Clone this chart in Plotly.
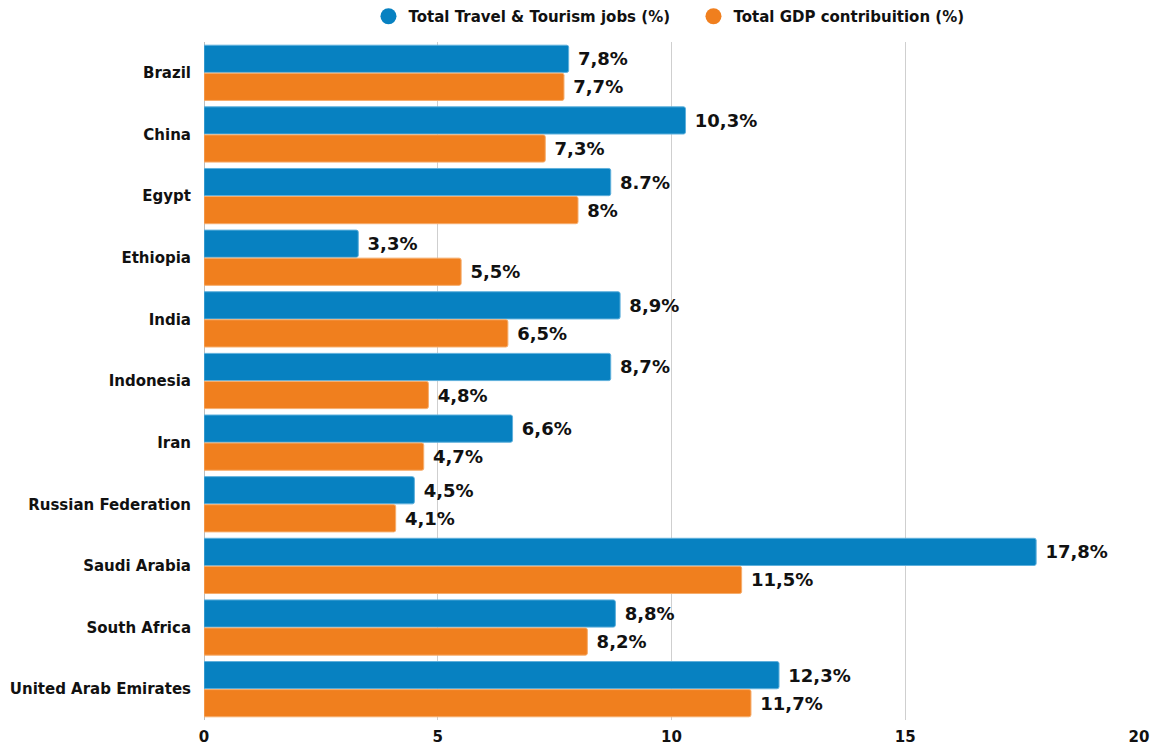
import plotly.graph_objects as go

countries = ["Brazil", "China", "Egypt", "Ethiopia", "India", "Indonesia", "Iran",
             "Russian Federation", "Saudi Arabia", "South Africa", "United Arab Emirates"]
jobs = [7.8, 10.3, 8.7, 3.3, 8.9, 8.7, 6.6, 4.5, 17.8, 8.8, 12.3]
gdp = [7.7, 7.3, 8.0, 5.5, 6.5, 4.8, 4.7, 4.1, 11.5, 8.2, 11.7]
jobs_labels = ["7,8%", "10,3%", "8.7%", "3,3%", "8,9%", "8,7%", "6,6%", "4,5%", "17,8%", "8,8%", "12,3%"]
gdp_labels = ["7,7%", "7,3%", "8%", "5,5%", "6,5%", "4,8%", "4,7%", "4,1%", "11,5%", "8,2%", "11,7%"]
x_ticks = [0, 5, 10, 15, 20]
series_names = ["Total Travel & Tourism jobs (%)", "Total GDP contribuition (%)"]

BLUE = "#0781c1"
ORANGE = "#f07f1e"
FONT = "DejaVu Sans, Verdana, sans-serif"

fig = go.Figure()
for vals, labels, color, edge in [(jobs, jobs_labels, BLUE, "#5fb0dc"),
                                  (gdp, gdp_labels, ORANGE, "#f6ad6c")]:
    fig.add_trace(go.Bar(
        y=countries, x=vals, orientation="h", showlegend=False,
        marker=dict(color=color, line=dict(color=edge, width=1), cornerradius=2),
        text=[" " + t for t in labels], textposition="outside", cliponaxis=False,
        textfont=dict(size=18, color="#111111", family=FONT, weight=700),
    ))

# round legend markers
for name, color in zip(series_names, [BLUE, ORANGE]):
    fig.add_trace(go.Scatter(
        x=[None], y=[None], mode="markers", name=name,
        marker=dict(symbol="circle", size=18, color=color),
    ))

fig.update_layout(
    width=1151, height=749,
    margin=dict(l=204, r=12, t=42, b=29, autoexpand=False),
    barmode="group", bargap=0.09, bargroupgap=0.03,
    plot_bgcolor="white", paper_bgcolor="white",
    font=dict(family=FONT, color="#111111"),
    legend=dict(orientation="h", x=0.5235, xanchor="center", y=1.0, yanchor="top",
                yref="container", font=dict(size=15, family=FONT, weight=700),
                itemsizing="trace", traceorder="normal", itemwidth=30,
                entrywidth=280, entrywidthmode="pixels"),
    xaxis=dict(range=[0, 20], tickvals=x_ticks, showgrid=True, gridcolor="#cfcfcf",
               gridwidth=1, zeroline=True, zerolinecolor="#bdbdbd", zerolinewidth=1,
               tickfont=dict(size=15, family=FONT, weight=700), ticks="",
               ticklabelstandoff=6),
    yaxis=dict(autorange="reversed", showgrid=False, ticks="", ticklabelstandoff=12,
               tickfont=dict(size=15, family=FONT, weight=700)),
)

fig.write_html("out.html")
